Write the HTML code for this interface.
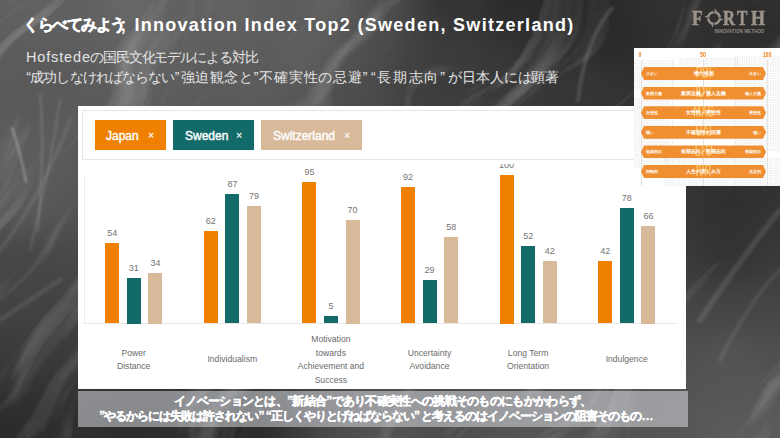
<!DOCTYPE html><html><head><meta charset="utf-8"><style>
*{margin:0;padding:0;box-sizing:border-box}
html,body{width:780px;height:438px;overflow:hidden}
body{position:relative;font-family:"Liberation Sans",sans-serif;background:#3e3e3e}
.a{position:absolute}
.title{left:26px;top:12px;color:#fff;white-space:nowrap;line-height:22px;font-weight:bold}
.sub{left:27px;color:#e4e4e4;white-space:nowrap;line-height:20px}
.pill{position:absolute;top:120px;height:30px;color:#fff;font-size:12px;line-height:30px;white-space:nowrap;-webkit-text-stroke:.4px #fff}
.pill span{position:absolute;top:.7px}
.pill i{position:absolute;top:.2px;font-style:normal;font-size:10.5px;-webkit-text-stroke:.2px #fff}
.bar{position:absolute;width:14px}
.o{background:#f08000}.t{background:#136b69}.s{background:#d8b99a}
.val{position:absolute;font-size:9px;color:#747474;width:30px;text-align:center;line-height:10px}
.cat{position:absolute;font-size:8.6px;color:#6a6a6a;width:96px;text-align:center;line-height:13.5px;white-space:nowrap}
.arr{position:absolute;left:7px;width:125px;height:13px;background:#ef8f32;
 clip-path:polygon(3px 0,122px 0,125px 50%,122px 100%,3px 100%,0 50%)}
.arr b{position:absolute;top:0;line-height:13px;color:#fff;font-size:4.1px;font-weight:bold;white-space:nowrap}
.arr .m{left:0;width:125px;text-align:center;font-size:5.4px}
.big{position:absolute;left:0;top:-1.5px;width:125px;text-align:center;font-size:16px;line-height:13px;color:rgba(255,214,120,.7);font-weight:bold;transform:scaleX(.58);transform-origin:62.5px 0}
.lg{position:absolute;font-family:"Liberation Serif",serif;font-weight:bold;font-size:20px;line-height:20px;color:#9c938a;transform-origin:0 0;-webkit-text-stroke:.5px #9c938a}
</style></head><body>
<svg class="a" style="left:0;top:0" width="780" height="438" viewBox="0 0 780 438">
<defs>
<filter id="bl" x="-20%" y="-20%" width="140%" height="140%" color-interpolation-filters="sRGB"><feGaussianBlur stdDeviation="10"/></filter>
<filter id="bs" x="-20%" y="-20%" width="140%" height="140%"><feGaussianBlur stdDeviation="1.2"/></filter>
<filter id="tx" x="0" y="0" width="100%" height="100%">
<feTurbulence type="fractalNoise" baseFrequency="0.004 0.03" numOctaves="5" seed="3" result="n"/>
<feTurbulence type="fractalNoise" baseFrequency="0.006" numOctaves="2" seed="11" result="w"/>
<feDisplacementMap in="n" in2="w" scale="120" xChannelSelector="R" yChannelSelector="G" result="d"/>
<feColorMatrix in="d" type="matrix" values="0 0 0 0 1  0 0 0 0 1  0 0 0 0 1  2.2 0 0 0 -1.25"/>
</filter>
</defs>
<g filter="url(#bl)"><rect x="-40" y="-40" width="60" height="60" fill="rgb(96,96,96)"/><rect x="20" y="-40" width="20" height="60" fill="rgb(98,98,98)"/><rect x="40" y="-40" width="20" height="60" fill="rgb(97,97,97)"/><rect x="60" y="-40" width="20" height="60" fill="rgb(96,96,96)"/><rect x="80" y="-40" width="20" height="60" fill="rgb(97,97,97)"/><rect x="100" y="-40" width="20" height="60" fill="rgb(101,101,101)"/><rect x="120" y="-40" width="20" height="60" fill="rgb(104,104,104)"/><rect x="140" y="-40" width="20" height="60" fill="rgb(101,101,101)"/><rect x="160" y="-40" width="20" height="60" fill="rgb(97,97,97)"/><rect x="180" y="-40" width="20" height="60" fill="rgb(96,96,96)"/><rect x="200" y="-40" width="20" height="60" fill="rgb(98,98,98)"/><rect x="220" y="-40" width="20" height="60" fill="rgb(100,100,100)"/><rect x="240" y="-40" width="20" height="60" fill="rgb(97,97,97)"/><rect x="260" y="-40" width="20" height="60" fill="rgb(93,93,93)"/><rect x="280" y="-40" width="20" height="60" fill="rgb(92,92,92)"/><rect x="300" y="-40" width="20" height="60" fill="rgb(94,94,94)"/><rect x="320" y="-40" width="20" height="60" fill="rgb(98,98,98)"/><rect x="340" y="-40" width="20" height="60" fill="rgb(89,89,89)"/><rect x="360" y="-40" width="20" height="60" fill="rgb(80,80,80)"/><rect x="380" y="-40" width="20" height="60" fill="rgb(78,78,78)"/><rect x="400" y="-40" width="20" height="60" fill="rgb(68,68,68)"/><rect x="420" y="-40" width="20" height="60" fill="rgb(56,56,56)"/><rect x="440" y="-40" width="20" height="60" fill="rgb(50,50,50)"/><rect x="460" y="-40" width="20" height="60" fill="rgb(52,52,52)"/><rect x="480" y="-40" width="20" height="60" fill="rgb(47,47,47)"/><rect x="500" y="-40" width="20" height="60" fill="rgb(43,43,43)"/><rect x="520" y="-40" width="20" height="60" fill="rgb(44,44,44)"/><rect x="540" y="-40" width="20" height="60" fill="rgb(41,41,41)"/><rect x="560" y="-40" width="20" height="60" fill="rgb(40,40,40)"/><rect x="580" y="-40" width="20" height="60" fill="rgb(38,38,38)"/><rect x="600" y="-40" width="20" height="60" fill="rgb(41,41,41)"/><rect x="620" y="-40" width="20" height="60" fill="rgb(45,45,45)"/><rect x="640" y="-40" width="20" height="60" fill="rgb(48,48,48)"/><rect x="660" y="-40" width="40" height="60" fill="rgb(49,49,49)"/><rect x="700" y="-40" width="20" height="60" fill="rgb(48,48,48)"/><rect x="720" y="-40" width="20" height="60" fill="rgb(47,47,47)"/><rect x="740" y="-40" width="20" height="60" fill="rgb(46,46,46)"/><rect x="760" y="-40" width="60" height="60" fill="rgb(47,47,47)"/><rect x="-40" y="20" width="60" height="20" fill="rgb(94,94,94)"/><rect x="20" y="20" width="60" height="20" fill="rgb(95,95,95)"/><rect x="80" y="20" width="20" height="20" fill="rgb(96,96,96)"/><rect x="100" y="20" width="20" height="20" fill="rgb(99,99,99)"/><rect x="120" y="20" width="20" height="20" fill="rgb(100,100,100)"/><rect x="140" y="20" width="20" height="20" fill="rgb(98,98,98)"/><rect x="160" y="20" width="20" height="20" fill="rgb(96,96,96)"/><rect x="180" y="20" width="20" height="20" fill="rgb(95,95,95)"/><rect x="200" y="20" width="20" height="20" fill="rgb(96,96,96)"/><rect x="220" y="20" width="20" height="20" fill="rgb(97,97,97)"/><rect x="240" y="20" width="20" height="20" fill="rgb(95,95,95)"/><rect x="260" y="20" width="40" height="20" fill="rgb(93,93,93)"/><rect x="300" y="20" width="20" height="20" fill="rgb(94,94,94)"/><rect x="320" y="20" width="20" height="20" fill="rgb(92,92,92)"/><rect x="340" y="20" width="20" height="20" fill="rgb(86,86,86)"/><rect x="360" y="20" width="20" height="20" fill="rgb(79,79,79)"/><rect x="380" y="20" width="20" height="20" fill="rgb(75,75,75)"/><rect x="400" y="20" width="20" height="20" fill="rgb(67,67,67)"/><rect x="420" y="20" width="20" height="20" fill="rgb(59,59,59)"/><rect x="440" y="20" width="20" height="20" fill="rgb(56,56,56)"/><rect x="460" y="20" width="20" height="20" fill="rgb(55,55,55)"/><rect x="480" y="20" width="20" height="20" fill="rgb(51,51,51)"/><rect x="500" y="20" width="20" height="20" fill="rgb(47,47,47)"/><rect x="520" y="20" width="20" height="20" fill="rgb(46,46,46)"/><rect x="540" y="20" width="20" height="20" fill="rgb(42,42,42)"/><rect x="560" y="20" width="20" height="20" fill="rgb(41,41,41)"/><rect x="580" y="20" width="20" height="20" fill="rgb(42,42,42)"/><rect x="600" y="20" width="20" height="20" fill="rgb(41,41,41)"/><rect x="620" y="20" width="20" height="20" fill="rgb(44,44,44)"/><rect x="640" y="20" width="20" height="20" fill="rgb(47,47,47)"/><rect x="660" y="20" width="20" height="20" fill="rgb(48,48,48)"/><rect x="680" y="20" width="20" height="20" fill="rgb(49,49,49)"/><rect x="700" y="20" width="20" height="20" fill="rgb(48,48,48)"/><rect x="720" y="20" width="40" height="20" fill="rgb(47,47,47)"/><rect x="760" y="20" width="60" height="20" fill="rgb(46,46,46)"/><rect x="-40" y="40" width="100" height="20" fill="rgb(92,92,92)"/><rect x="60" y="40" width="20" height="20" fill="rgb(93,93,93)"/><rect x="80" y="40" width="20" height="20" fill="rgb(94,94,94)"/><rect x="100" y="40" width="20" height="20" fill="rgb(96,96,96)"/><rect x="120" y="40" width="40" height="20" fill="rgb(97,97,97)"/><rect x="160" y="40" width="20" height="20" fill="rgb(96,96,96)"/><rect x="180" y="40" width="20" height="20" fill="rgb(95,95,95)"/><rect x="200" y="40" width="20" height="20" fill="rgb(94,94,94)"/><rect x="220" y="40" width="20" height="20" fill="rgb(93,93,93)"/><rect x="240" y="40" width="40" height="20" fill="rgb(92,92,92)"/><rect x="280" y="40" width="20" height="20" fill="rgb(95,95,95)"/><rect x="300" y="40" width="20" height="20" fill="rgb(96,96,96)"/><rect x="320" y="40" width="20" height="20" fill="rgb(90,90,90)"/><rect x="340" y="40" width="20" height="20" fill="rgb(83,83,83)"/><rect x="360" y="40" width="20" height="20" fill="rgb(78,78,78)"/><rect x="380" y="40" width="20" height="20" fill="rgb(72,72,72)"/><rect x="400" y="40" width="20" height="20" fill="rgb(66,66,66)"/><rect x="420" y="40" width="20" height="20" fill="rgb(61,61,61)"/><rect x="440" y="40" width="20" height="20" fill="rgb(59,59,59)"/><rect x="460" y="40" width="20" height="20" fill="rgb(58,58,58)"/><rect x="480" y="40" width="20" height="20" fill="rgb(55,55,55)"/><rect x="500" y="40" width="20" height="20" fill="rgb(52,52,52)"/><rect x="520" y="40" width="20" height="20" fill="rgb(49,49,49)"/><rect x="540" y="40" width="20" height="20" fill="rgb(47,47,47)"/><rect x="560" y="40" width="20" height="20" fill="rgb(46,46,46)"/><rect x="580" y="40" width="20" height="20" fill="rgb(45,45,45)"/><rect x="600" y="40" width="20" height="20" fill="rgb(41,41,41)"/><rect x="620" y="40" width="20" height="20" fill="rgb(44,44,44)"/><rect x="640" y="40" width="20" height="20" fill="rgb(47,47,47)"/><rect x="660" y="40" width="20" height="20" fill="rgb(48,48,48)"/><rect x="680" y="40" width="20" height="20" fill="rgb(49,49,49)"/><rect x="700" y="40" width="40" height="20" fill="rgb(48,48,48)"/><rect x="740" y="40" width="20" height="20" fill="rgb(47,47,47)"/><rect x="760" y="40" width="60" height="20" fill="rgb(46,46,46)"/><rect x="-40" y="60" width="120" height="20" fill="rgb(91,91,91)"/><rect x="80" y="60" width="20" height="20" fill="rgb(92,92,92)"/><rect x="100" y="60" width="20" height="20" fill="rgb(94,94,94)"/><rect x="120" y="60" width="20" height="20" fill="rgb(95,95,95)"/><rect x="140" y="60" width="40" height="20" fill="rgb(96,96,96)"/><rect x="180" y="60" width="20" height="20" fill="rgb(94,94,94)"/><rect x="200" y="60" width="20" height="20" fill="rgb(92,92,92)"/><rect x="220" y="60" width="60" height="20" fill="rgb(91,91,91)"/><rect x="280" y="60" width="40" height="20" fill="rgb(92,92,92)"/><rect x="320" y="60" width="20" height="20" fill="rgb(85,85,85)"/><rect x="340" y="60" width="20" height="20" fill="rgb(80,80,80)"/><rect x="360" y="60" width="20" height="20" fill="rgb(76,76,76)"/><rect x="380" y="60" width="20" height="20" fill="rgb(71,71,71)"/><rect x="400" y="60" width="20" height="20" fill="rgb(65,65,65)"/><rect x="420" y="60" width="20" height="20" fill="rgb(62,62,62)"/><rect x="440" y="60" width="20" height="20" fill="rgb(60,60,60)"/><rect x="460" y="60" width="20" height="20" fill="rgb(59,59,59)"/><rect x="480" y="60" width="20" height="20" fill="rgb(57,57,57)"/><rect x="500" y="60" width="20" height="20" fill="rgb(56,56,56)"/><rect x="520" y="60" width="20" height="20" fill="rgb(54,54,54)"/><rect x="540" y="60" width="60" height="20" fill="rgb(51,51,51)"/><rect x="600" y="60" width="20" height="20" fill="rgb(49,49,49)"/><rect x="620" y="60" width="20" height="20" fill="rgb(47,47,47)"/><rect x="640" y="60" width="20" height="20" fill="rgb(48,48,48)"/><rect x="660" y="60" width="60" height="20" fill="rgb(49,49,49)"/><rect x="720" y="60" width="20" height="20" fill="rgb(48,48,48)"/><rect x="740" y="60" width="20" height="20" fill="rgb(47,47,47)"/><rect x="760" y="60" width="60" height="20" fill="rgb(46,46,46)"/><rect x="-40" y="80" width="60" height="20" fill="rgb(90,90,90)"/><rect x="20" y="80" width="20" height="20" fill="rgb(89,89,89)"/><rect x="40" y="80" width="40" height="20" fill="rgb(90,90,90)"/><rect x="80" y="80" width="20" height="20" fill="rgb(91,91,91)"/><rect x="100" y="80" width="20" height="20" fill="rgb(92,92,92)"/><rect x="120" y="80" width="20" height="20" fill="rgb(93,93,93)"/><rect x="140" y="80" width="40" height="20" fill="rgb(94,94,94)"/><rect x="180" y="80" width="20" height="20" fill="rgb(92,92,92)"/><rect x="200" y="80" width="40" height="20" fill="rgb(91,91,91)"/><rect x="240" y="80" width="20" height="20" fill="rgb(92,92,92)"/><rect x="260" y="80" width="20" height="20" fill="rgb(91,91,91)"/><rect x="280" y="80" width="20" height="20" fill="rgb(88,88,88)"/><rect x="300" y="80" width="20" height="20" fill="rgb(85,85,85)"/><rect x="320" y="80" width="20" height="20" fill="rgb(80,80,80)"/><rect x="340" y="80" width="20" height="20" fill="rgb(77,77,77)"/><rect x="360" y="80" width="20" height="20" fill="rgb(76,76,76)"/><rect x="380" y="80" width="20" height="20" fill="rgb(70,70,70)"/><rect x="400" y="80" width="20" height="20" fill="rgb(64,64,64)"/><rect x="420" y="80" width="20" height="20" fill="rgb(62,62,62)"/><rect x="440" y="80" width="20" height="20" fill="rgb(61,61,61)"/><rect x="460" y="80" width="20" height="20" fill="rgb(59,59,59)"/><rect x="480" y="80" width="20" height="20" fill="rgb(58,58,58)"/><rect x="500" y="80" width="20" height="20" fill="rgb(59,59,59)"/><rect x="520" y="80" width="20" height="20" fill="rgb(56,56,56)"/><rect x="540" y="80" width="40" height="20" fill="rgb(54,54,54)"/><rect x="580" y="80" width="20" height="20" fill="rgb(52,52,52)"/><rect x="600" y="80" width="20" height="20" fill="rgb(51,51,51)"/><rect x="620" y="80" width="100" height="20" fill="rgb(50,50,50)"/><rect x="720" y="80" width="20" height="20" fill="rgb(49,49,49)"/><rect x="740" y="80" width="20" height="20" fill="rgb(48,48,48)"/><rect x="760" y="80" width="60" height="20" fill="rgb(47,47,47)"/><rect x="-40" y="100" width="60" height="20" fill="rgb(90,90,90)"/><rect x="20" y="100" width="20" height="20" fill="rgb(89,89,89)"/><rect x="40" y="100" width="80" height="20" fill="rgb(90,90,90)"/><rect x="120" y="100" width="60" height="20" fill="rgb(91,91,91)"/><rect x="180" y="100" width="60" height="20" fill="rgb(90,90,90)"/><rect x="240" y="100" width="20" height="20" fill="rgb(91,91,91)"/><rect x="260" y="100" width="20" height="20" fill="rgb(90,90,90)"/><rect x="280" y="100" width="20" height="20" fill="rgb(86,86,86)"/><rect x="300" y="100" width="20" height="20" fill="rgb(83,83,83)"/><rect x="320" y="100" width="20" height="20" fill="rgb(79,79,79)"/><rect x="340" y="100" width="20" height="20" fill="rgb(77,77,77)"/><rect x="360" y="100" width="20" height="20" fill="rgb(75,75,75)"/><rect x="380" y="100" width="20" height="20" fill="rgb(70,70,70)"/><rect x="400" y="100" width="20" height="20" fill="rgb(65,65,65)"/><rect x="420" y="100" width="40" height="20" fill="rgb(62,62,62)"/><rect x="460" y="100" width="20" height="20" fill="rgb(60,60,60)"/><rect x="480" y="100" width="20" height="20" fill="rgb(59,59,59)"/><rect x="500" y="100" width="20" height="20" fill="rgb(58,58,58)"/><rect x="520" y="100" width="20" height="20" fill="rgb(57,57,57)"/><rect x="540" y="100" width="20" height="20" fill="rgb(55,55,55)"/><rect x="560" y="100" width="20" height="20" fill="rgb(54,54,54)"/><rect x="580" y="100" width="20" height="20" fill="rgb(53,53,53)"/><rect x="600" y="100" width="20" height="20" fill="rgb(52,52,52)"/><rect x="620" y="100" width="80" height="20" fill="rgb(51,51,51)"/><rect x="700" y="100" width="40" height="20" fill="rgb(50,50,50)"/><rect x="740" y="100" width="20" height="20" fill="rgb(49,49,49)"/><rect x="760" y="100" width="60" height="20" fill="rgb(48,48,48)"/><rect x="-40" y="120" width="100" height="20" fill="rgb(91,91,91)"/><rect x="60" y="120" width="20" height="20" fill="rgb(90,90,90)"/><rect x="80" y="120" width="20" height="20" fill="rgb(89,89,89)"/><rect x="100" y="120" width="140" height="20" fill="rgb(88,88,88)"/><rect x="240" y="120" width="20" height="20" fill="rgb(89,89,89)"/><rect x="260" y="120" width="20" height="20" fill="rgb(87,87,87)"/><rect x="280" y="120" width="20" height="20" fill="rgb(84,84,84)"/><rect x="300" y="120" width="20" height="20" fill="rgb(81,81,81)"/><rect x="320" y="120" width="20" height="20" fill="rgb(78,78,78)"/><rect x="340" y="120" width="20" height="20" fill="rgb(76,76,76)"/><rect x="360" y="120" width="20" height="20" fill="rgb(74,74,74)"/><rect x="380" y="120" width="20" height="20" fill="rgb(70,70,70)"/><rect x="400" y="120" width="20" height="20" fill="rgb(66,66,66)"/><rect x="420" y="120" width="20" height="20" fill="rgb(64,64,64)"/><rect x="440" y="120" width="20" height="20" fill="rgb(62,62,62)"/><rect x="460" y="120" width="20" height="20" fill="rgb(61,61,61)"/><rect x="480" y="120" width="20" height="20" fill="rgb(59,59,59)"/><rect x="500" y="120" width="20" height="20" fill="rgb(58,58,58)"/><rect x="520" y="120" width="20" height="20" fill="rgb(57,57,57)"/><rect x="540" y="120" width="20" height="20" fill="rgb(55,55,55)"/><rect x="560" y="120" width="40" height="20" fill="rgb(54,54,54)"/><rect x="600" y="120" width="20" height="20" fill="rgb(53,53,53)"/><rect x="620" y="120" width="80" height="20" fill="rgb(52,52,52)"/><rect x="700" y="120" width="20" height="20" fill="rgb(51,51,51)"/><rect x="720" y="120" width="20" height="20" fill="rgb(50,50,50)"/><rect x="740" y="120" width="20" height="20" fill="rgb(49,49,49)"/><rect x="760" y="120" width="60" height="20" fill="rgb(48,48,48)"/><rect x="-40" y="140" width="60" height="20" fill="rgb(92,92,92)"/><rect x="20" y="140" width="20" height="20" fill="rgb(94,94,94)"/><rect x="40" y="140" width="20" height="20" fill="rgb(92,92,92)"/><rect x="60" y="140" width="20" height="20" fill="rgb(90,90,90)"/><rect x="80" y="140" width="20" height="20" fill="rgb(88,88,88)"/><rect x="100" y="140" width="20" height="20" fill="rgb(87,87,87)"/><rect x="120" y="140" width="120" height="20" fill="rgb(86,86,86)"/><rect x="240" y="140" width="20" height="20" fill="rgb(85,85,85)"/><rect x="260" y="140" width="20" height="20" fill="rgb(84,84,84)"/><rect x="280" y="140" width="20" height="20" fill="rgb(82,82,82)"/><rect x="300" y="140" width="20" height="20" fill="rgb(80,80,80)"/><rect x="320" y="140" width="20" height="20" fill="rgb(77,77,77)"/><rect x="340" y="140" width="20" height="20" fill="rgb(75,75,75)"/><rect x="360" y="140" width="20" height="20" fill="rgb(73,73,73)"/><rect x="380" y="140" width="20" height="20" fill="rgb(70,70,70)"/><rect x="400" y="140" width="20" height="20" fill="rgb(67,67,67)"/><rect x="420" y="140" width="20" height="20" fill="rgb(65,65,65)"/><rect x="440" y="140" width="20" height="20" fill="rgb(63,63,63)"/><rect x="460" y="140" width="20" height="20" fill="rgb(61,61,61)"/><rect x="480" y="140" width="20" height="20" fill="rgb(60,60,60)"/><rect x="500" y="140" width="20" height="20" fill="rgb(58,58,58)"/><rect x="520" y="140" width="20" height="20" fill="rgb(57,57,57)"/><rect x="540" y="140" width="20" height="20" fill="rgb(56,56,56)"/><rect x="560" y="140" width="40" height="20" fill="rgb(55,55,55)"/><rect x="600" y="140" width="40" height="20" fill="rgb(54,54,54)"/><rect x="640" y="140" width="40" height="20" fill="rgb(53,53,53)"/><rect x="680" y="140" width="20" height="20" fill="rgb(52,52,52)"/><rect x="700" y="140" width="20" height="20" fill="rgb(51,51,51)"/><rect x="720" y="140" width="20" height="20" fill="rgb(50,50,50)"/><rect x="740" y="140" width="20" height="20" fill="rgb(49,49,49)"/><rect x="760" y="140" width="60" height="20" fill="rgb(47,47,47)"/><rect x="-40" y="160" width="60" height="20" fill="rgb(91,91,91)"/><rect x="20" y="160" width="20" height="20" fill="rgb(93,93,93)"/><rect x="40" y="160" width="20" height="20" fill="rgb(91,91,91)"/><rect x="60" y="160" width="20" height="20" fill="rgb(89,89,89)"/><rect x="80" y="160" width="20" height="20" fill="rgb(86,86,86)"/><rect x="100" y="160" width="20" height="20" fill="rgb(85,85,85)"/><rect x="120" y="160" width="60" height="20" fill="rgb(84,84,84)"/><rect x="180" y="160" width="80" height="20" fill="rgb(83,83,83)"/><rect x="260" y="160" width="20" height="20" fill="rgb(82,82,82)"/><rect x="280" y="160" width="20" height="20" fill="rgb(80,80,80)"/><rect x="300" y="160" width="20" height="20" fill="rgb(78,78,78)"/><rect x="320" y="160" width="20" height="20" fill="rgb(76,76,76)"/><rect x="340" y="160" width="20" height="20" fill="rgb(74,74,74)"/><rect x="360" y="160" width="20" height="20" fill="rgb(72,72,72)"/><rect x="380" y="160" width="20" height="20" fill="rgb(70,70,70)"/><rect x="400" y="160" width="20" height="20" fill="rgb(67,67,67)"/><rect x="420" y="160" width="20" height="20" fill="rgb(65,65,65)"/><rect x="440" y="160" width="20" height="20" fill="rgb(64,64,64)"/><rect x="460" y="160" width="20" height="20" fill="rgb(62,62,62)"/><rect x="480" y="160" width="20" height="20" fill="rgb(61,61,61)"/><rect x="500" y="160" width="20" height="20" fill="rgb(59,59,59)"/><rect x="520" y="160" width="20" height="20" fill="rgb(58,58,58)"/><rect x="540" y="160" width="20" height="20" fill="rgb(57,57,57)"/><rect x="560" y="160" width="40" height="20" fill="rgb(56,56,56)"/><rect x="600" y="160" width="40" height="20" fill="rgb(55,55,55)"/><rect x="640" y="160" width="20" height="20" fill="rgb(54,54,54)"/><rect x="660" y="160" width="20" height="20" fill="rgb(53,53,53)"/><rect x="680" y="160" width="20" height="20" fill="rgb(52,52,52)"/><rect x="700" y="160" width="20" height="20" fill="rgb(51,51,51)"/><rect x="720" y="160" width="20" height="20" fill="rgb(50,50,50)"/><rect x="740" y="160" width="20" height="20" fill="rgb(49,49,49)"/><rect x="760" y="160" width="60" height="20" fill="rgb(48,48,48)"/><rect x="-40" y="180" width="60" height="20" fill="rgb(89,89,89)"/><rect x="20" y="180" width="20" height="20" fill="rgb(90,90,90)"/><rect x="40" y="180" width="20" height="20" fill="rgb(89,89,89)"/><rect x="60" y="180" width="20" height="20" fill="rgb(87,87,87)"/><rect x="80" y="180" width="20" height="20" fill="rgb(84,84,84)"/><rect x="100" y="180" width="20" height="20" fill="rgb(83,83,83)"/><rect x="120" y="180" width="20" height="20" fill="rgb(82,82,82)"/><rect x="140" y="180" width="100" height="20" fill="rgb(81,81,81)"/><rect x="240" y="180" width="20" height="20" fill="rgb(80,80,80)"/><rect x="260" y="180" width="20" height="20" fill="rgb(79,79,79)"/><rect x="280" y="180" width="20" height="20" fill="rgb(78,78,78)"/><rect x="300" y="180" width="20" height="20" fill="rgb(77,77,77)"/><rect x="320" y="180" width="20" height="20" fill="rgb(75,75,75)"/><rect x="340" y="180" width="20" height="20" fill="rgb(73,73,73)"/><rect x="360" y="180" width="20" height="20" fill="rgb(71,71,71)"/><rect x="380" y="180" width="20" height="20" fill="rgb(69,69,69)"/><rect x="400" y="180" width="20" height="20" fill="rgb(68,68,68)"/><rect x="420" y="180" width="20" height="20" fill="rgb(66,66,66)"/><rect x="440" y="180" width="20" height="20" fill="rgb(64,64,64)"/><rect x="460" y="180" width="20" height="20" fill="rgb(63,63,63)"/><rect x="480" y="180" width="20" height="20" fill="rgb(61,61,61)"/><rect x="500" y="180" width="20" height="20" fill="rgb(60,60,60)"/><rect x="520" y="180" width="40" height="20" fill="rgb(59,59,59)"/><rect x="560" y="180" width="20" height="20" fill="rgb(58,58,58)"/><rect x="580" y="180" width="40" height="20" fill="rgb(57,57,57)"/><rect x="620" y="180" width="20" height="20" fill="rgb(56,56,56)"/><rect x="640" y="180" width="20" height="20" fill="rgb(55,55,55)"/><rect x="660" y="180" width="20" height="20" fill="rgb(54,54,54)"/><rect x="680" y="180" width="20" height="20" fill="rgb(52,52,52)"/><rect x="700" y="180" width="20" height="20" fill="rgb(50,50,50)"/><rect x="720" y="180" width="20" height="20" fill="rgb(48,48,48)"/><rect x="740" y="180" width="20" height="20" fill="rgb(49,49,49)"/><rect x="760" y="180" width="60" height="20" fill="rgb(50,50,50)"/><rect x="-40" y="200" width="60" height="20" fill="rgb(88,88,88)"/><rect x="20" y="200" width="20" height="20" fill="rgb(91,91,91)"/><rect x="40" y="200" width="20" height="20" fill="rgb(88,88,88)"/><rect x="60" y="200" width="20" height="20" fill="rgb(84,84,84)"/><rect x="80" y="200" width="20" height="20" fill="rgb(82,82,82)"/><rect x="100" y="200" width="40" height="20" fill="rgb(80,80,80)"/><rect x="140" y="200" width="60" height="20" fill="rgb(79,79,79)"/><rect x="200" y="200" width="60" height="20" fill="rgb(78,78,78)"/><rect x="260" y="200" width="20" height="20" fill="rgb(77,77,77)"/><rect x="280" y="200" width="20" height="20" fill="rgb(76,76,76)"/><rect x="300" y="200" width="20" height="20" fill="rgb(75,75,75)"/><rect x="320" y="200" width="20" height="20" fill="rgb(74,74,74)"/><rect x="340" y="200" width="20" height="20" fill="rgb(72,72,72)"/><rect x="360" y="200" width="20" height="20" fill="rgb(71,71,71)"/><rect x="380" y="200" width="20" height="20" fill="rgb(69,69,69)"/><rect x="400" y="200" width="20" height="20" fill="rgb(68,68,68)"/><rect x="420" y="200" width="20" height="20" fill="rgb(66,66,66)"/><rect x="440" y="200" width="20" height="20" fill="rgb(65,65,65)"/><rect x="460" y="200" width="20" height="20" fill="rgb(64,64,64)"/><rect x="480" y="200" width="20" height="20" fill="rgb(63,63,63)"/><rect x="500" y="200" width="20" height="20" fill="rgb(62,62,62)"/><rect x="520" y="200" width="20" height="20" fill="rgb(61,61,61)"/><rect x="540" y="200" width="20" height="20" fill="rgb(60,60,60)"/><rect x="560" y="200" width="40" height="20" fill="rgb(59,59,59)"/><rect x="600" y="200" width="40" height="20" fill="rgb(58,58,58)"/><rect x="640" y="200" width="20" height="20" fill="rgb(57,57,57)"/><rect x="660" y="200" width="20" height="20" fill="rgb(55,55,55)"/><rect x="680" y="200" width="20" height="20" fill="rgb(52,52,52)"/><rect x="700" y="200" width="20" height="20" fill="rgb(49,49,49)"/><rect x="720" y="200" width="20" height="20" fill="rgb(47,47,47)"/><rect x="740" y="200" width="20" height="20" fill="rgb(49,49,49)"/><rect x="760" y="200" width="60" height="20" fill="rgb(51,51,51)"/><rect x="-40" y="220" width="100" height="20" fill="rgb(81,81,81)"/><rect x="60" y="220" width="20" height="20" fill="rgb(79,79,79)"/><rect x="80" y="220" width="20" height="20" fill="rgb(78,78,78)"/><rect x="100" y="220" width="40" height="20" fill="rgb(77,77,77)"/><rect x="140" y="220" width="120" height="20" fill="rgb(76,76,76)"/><rect x="260" y="220" width="20" height="20" fill="rgb(75,75,75)"/><rect x="280" y="220" width="40" height="20" fill="rgb(74,74,74)"/><rect x="320" y="220" width="20" height="20" fill="rgb(73,73,73)"/><rect x="340" y="220" width="20" height="20" fill="rgb(72,72,72)"/><rect x="360" y="220" width="20" height="20" fill="rgb(71,71,71)"/><rect x="380" y="220" width="20" height="20" fill="rgb(69,69,69)"/><rect x="400" y="220" width="20" height="20" fill="rgb(68,68,68)"/><rect x="420" y="220" width="20" height="20" fill="rgb(67,67,67)"/><rect x="440" y="220" width="20" height="20" fill="rgb(66,66,66)"/><rect x="460" y="220" width="20" height="20" fill="rgb(65,65,65)"/><rect x="480" y="220" width="20" height="20" fill="rgb(64,64,64)"/><rect x="500" y="220" width="20" height="20" fill="rgb(63,63,63)"/><rect x="520" y="220" width="40" height="20" fill="rgb(62,62,62)"/><rect x="560" y="220" width="40" height="20" fill="rgb(61,61,61)"/><rect x="600" y="220" width="20" height="20" fill="rgb(60,60,60)"/><rect x="620" y="220" width="20" height="20" fill="rgb(59,59,59)"/><rect x="640" y="220" width="20" height="20" fill="rgb(58,58,58)"/><rect x="660" y="220" width="20" height="20" fill="rgb(56,56,56)"/><rect x="680" y="220" width="20" height="20" fill="rgb(54,54,54)"/><rect x="700" y="220" width="20" height="20" fill="rgb(51,51,51)"/><rect x="720" y="220" width="20" height="20" fill="rgb(50,50,50)"/><rect x="740" y="220" width="20" height="20" fill="rgb(51,51,51)"/><rect x="760" y="220" width="60" height="20" fill="rgb(53,53,53)"/><rect x="-40" y="240" width="60" height="20" fill="rgb(72,72,72)"/><rect x="20" y="240" width="20" height="20" fill="rgb(70,70,70)"/><rect x="40" y="240" width="20" height="20" fill="rgb(72,72,72)"/><rect x="60" y="240" width="100" height="20" fill="rgb(74,74,74)"/><rect x="160" y="240" width="140" height="20" fill="rgb(73,73,73)"/><rect x="300" y="240" width="40" height="20" fill="rgb(72,72,72)"/><rect x="340" y="240" width="20" height="20" fill="rgb(71,71,71)"/><rect x="360" y="240" width="20" height="20" fill="rgb(70,70,70)"/><rect x="380" y="240" width="20" height="20" fill="rgb(69,69,69)"/><rect x="400" y="240" width="20" height="20" fill="rgb(68,68,68)"/><rect x="420" y="240" width="40" height="20" fill="rgb(67,67,67)"/><rect x="460" y="240" width="20" height="20" fill="rgb(66,66,66)"/><rect x="480" y="240" width="20" height="20" fill="rgb(65,65,65)"/><rect x="500" y="240" width="40" height="20" fill="rgb(64,64,64)"/><rect x="540" y="240" width="60" height="20" fill="rgb(63,63,63)"/><rect x="600" y="240" width="20" height="20" fill="rgb(62,62,62)"/><rect x="620" y="240" width="20" height="20" fill="rgb(61,61,61)"/><rect x="640" y="240" width="20" height="20" fill="rgb(60,60,60)"/><rect x="660" y="240" width="20" height="20" fill="rgb(59,59,59)"/><rect x="680" y="240" width="20" height="20" fill="rgb(56,56,56)"/><rect x="700" y="240" width="20" height="20" fill="rgb(52,52,52)"/><rect x="720" y="240" width="20" height="20" fill="rgb(50,50,50)"/><rect x="740" y="240" width="20" height="20" fill="rgb(52,52,52)"/><rect x="760" y="240" width="60" height="20" fill="rgb(56,56,56)"/><rect x="-40" y="260" width="100" height="20" fill="rgb(70,70,70)"/><rect x="60" y="260" width="280" height="20" fill="rgb(71,71,71)"/><rect x="340" y="260" width="40" height="20" fill="rgb(70,70,70)"/><rect x="380" y="260" width="40" height="20" fill="rgb(69,69,69)"/><rect x="420" y="260" width="40" height="20" fill="rgb(68,68,68)"/><rect x="460" y="260" width="20" height="20" fill="rgb(67,67,67)"/><rect x="480" y="260" width="60" height="20" fill="rgb(66,66,66)"/><rect x="540" y="260" width="60" height="20" fill="rgb(65,65,65)"/><rect x="600" y="260" width="40" height="20" fill="rgb(64,64,64)"/><rect x="640" y="260" width="20" height="20" fill="rgb(63,63,63)"/><rect x="660" y="260" width="20" height="20" fill="rgb(62,62,62)"/><rect x="680" y="260" width="20" height="20" fill="rgb(59,59,59)"/><rect x="700" y="260" width="20" height="20" fill="rgb(56,56,56)"/><rect x="720" y="260" width="20" height="20" fill="rgb(53,53,53)"/><rect x="740" y="260" width="20" height="20" fill="rgb(56,56,56)"/><rect x="760" y="260" width="60" height="20" fill="rgb(59,59,59)"/><rect x="-40" y="280" width="300" height="20" fill="rgb(68,68,68)"/><rect x="260" y="280" width="40" height="20" fill="rgb(69,69,69)"/><rect x="300" y="280" width="100" height="20" fill="rgb(70,70,70)"/><rect x="400" y="280" width="60" height="20" fill="rgb(69,69,69)"/><rect x="460" y="280" width="80" height="20" fill="rgb(68,68,68)"/><rect x="540" y="280" width="100" height="20" fill="rgb(67,67,67)"/><rect x="640" y="280" width="40" height="20" fill="rgb(66,66,66)"/><rect x="680" y="280" width="140" height="20" fill="rgb(65,65,65)"/><rect x="-40" y="300" width="60" height="20" fill="rgb(66,66,66)"/><rect x="20" y="300" width="20" height="20" fill="rgb(67,67,67)"/><rect x="40" y="300" width="20" height="20" fill="rgb(66,66,66)"/><rect x="60" y="300" width="180" height="20" fill="rgb(65,65,65)"/><rect x="240" y="300" width="20" height="20" fill="rgb(66,66,66)"/><rect x="260" y="300" width="40" height="20" fill="rgb(67,67,67)"/><rect x="300" y="300" width="20" height="20" fill="rgb(68,68,68)"/><rect x="320" y="300" width="20" height="20" fill="rgb(69,69,69)"/><rect x="340" y="300" width="220" height="20" fill="rgb(70,70,70)"/><rect x="560" y="300" width="40" height="20" fill="rgb(69,69,69)"/><rect x="600" y="300" width="100" height="20" fill="rgb(70,70,70)"/><rect x="700" y="300" width="60" height="20" fill="rgb(69,69,69)"/><rect x="760" y="300" width="60" height="20" fill="rgb(70,70,70)"/><rect x="-40" y="320" width="100" height="20" fill="rgb(63,63,63)"/><rect x="60" y="320" width="40" height="20" fill="rgb(62,62,62)"/><rect x="100" y="320" width="120" height="20" fill="rgb(61,61,61)"/><rect x="220" y="320" width="20" height="20" fill="rgb(62,62,62)"/><rect x="240" y="320" width="20" height="20" fill="rgb(63,63,63)"/><rect x="260" y="320" width="20" height="20" fill="rgb(64,64,64)"/><rect x="280" y="320" width="20" height="20" fill="rgb(66,66,66)"/><rect x="300" y="320" width="20" height="20" fill="rgb(67,67,67)"/><rect x="320" y="320" width="20" height="20" fill="rgb(69,69,69)"/><rect x="340" y="320" width="20" height="20" fill="rgb(70,70,70)"/><rect x="360" y="320" width="100" height="20" fill="rgb(71,71,71)"/><rect x="460" y="320" width="160" height="20" fill="rgb(72,72,72)"/><rect x="620" y="320" width="40" height="20" fill="rgb(73,73,73)"/><rect x="660" y="320" width="40" height="20" fill="rgb(74,74,74)"/><rect x="700" y="320" width="60" height="20" fill="rgb(75,75,75)"/><rect x="760" y="320" width="60" height="20" fill="rgb(74,74,74)"/><rect x="-40" y="340" width="120" height="20" fill="rgb(59,59,59)"/><rect x="80" y="340" width="100" height="20" fill="rgb(58,58,58)"/><rect x="180" y="340" width="40" height="20" fill="rgb(57,57,57)"/><rect x="220" y="340" width="20" height="20" fill="rgb(58,58,58)"/><rect x="240" y="340" width="20" height="20" fill="rgb(59,59,59)"/><rect x="260" y="340" width="20" height="20" fill="rgb(61,61,61)"/><rect x="280" y="340" width="20" height="20" fill="rgb(63,63,63)"/><rect x="300" y="340" width="20" height="20" fill="rgb(66,66,66)"/><rect x="320" y="340" width="20" height="20" fill="rgb(69,69,69)"/><rect x="340" y="340" width="20" height="20" fill="rgb(71,71,71)"/><rect x="360" y="340" width="20" height="20" fill="rgb(72,72,72)"/><rect x="380" y="340" width="100" height="20" fill="rgb(73,73,73)"/><rect x="480" y="340" width="40" height="20" fill="rgb(74,74,74)"/><rect x="520" y="340" width="40" height="20" fill="rgb(75,75,75)"/><rect x="560" y="340" width="40" height="20" fill="rgb(74,74,74)"/><rect x="600" y="340" width="40" height="20" fill="rgb(75,75,75)"/><rect x="640" y="340" width="20" height="20" fill="rgb(76,76,76)"/><rect x="660" y="340" width="20" height="20" fill="rgb(77,77,77)"/><rect x="680" y="340" width="20" height="20" fill="rgb(79,79,79)"/><rect x="700" y="340" width="20" height="20" fill="rgb(81,81,81)"/><rect x="720" y="340" width="20" height="20" fill="rgb(84,84,84)"/><rect x="740" y="340" width="20" height="20" fill="rgb(81,81,81)"/><rect x="760" y="340" width="60" height="20" fill="rgb(79,79,79)"/><rect x="-40" y="360" width="60" height="20" fill="rgb(56,56,56)"/><rect x="20" y="360" width="20" height="20" fill="rgb(57,57,57)"/><rect x="40" y="360" width="20" height="20" fill="rgb(56,56,56)"/><rect x="60" y="360" width="40" height="20" fill="rgb(55,55,55)"/><rect x="100" y="360" width="80" height="20" fill="rgb(54,54,54)"/><rect x="180" y="360" width="60" height="20" fill="rgb(53,53,53)"/><rect x="240" y="360" width="20" height="20" fill="rgb(54,54,54)"/><rect x="260" y="360" width="20" height="20" fill="rgb(57,57,57)"/><rect x="280" y="360" width="20" height="20" fill="rgb(61,61,61)"/><rect x="300" y="360" width="20" height="20" fill="rgb(65,65,65)"/><rect x="320" y="360" width="20" height="20" fill="rgb(69,69,69)"/><rect x="340" y="360" width="20" height="20" fill="rgb(72,72,72)"/><rect x="360" y="360" width="20" height="20" fill="rgb(74,74,74)"/><rect x="380" y="360" width="100" height="20" fill="rgb(75,75,75)"/><rect x="480" y="360" width="20" height="20" fill="rgb(76,76,76)"/><rect x="500" y="360" width="20" height="20" fill="rgb(77,77,77)"/><rect x="520" y="360" width="20" height="20" fill="rgb(78,78,78)"/><rect x="540" y="360" width="80" height="20" fill="rgb(77,77,77)"/><rect x="620" y="360" width="20" height="20" fill="rgb(78,78,78)"/><rect x="640" y="360" width="20" height="20" fill="rgb(79,79,79)"/><rect x="660" y="360" width="20" height="20" fill="rgb(80,80,80)"/><rect x="680" y="360" width="20" height="20" fill="rgb(82,82,82)"/><rect x="700" y="360" width="20" height="20" fill="rgb(83,83,83)"/><rect x="720" y="360" width="40" height="20" fill="rgb(84,84,84)"/><rect x="760" y="360" width="60" height="20" fill="rgb(82,82,82)"/><rect x="-40" y="380" width="60" height="20" fill="rgb(50,50,50)"/><rect x="20" y="380" width="20" height="20" fill="rgb(49,49,49)"/><rect x="40" y="380" width="20" height="20" fill="rgb(50,50,50)"/><rect x="60" y="380" width="20" height="20" fill="rgb(51,51,51)"/><rect x="80" y="380" width="20" height="20" fill="rgb(52,52,52)"/><rect x="100" y="380" width="20" height="20" fill="rgb(51,51,51)"/><rect x="120" y="380" width="80" height="20" fill="rgb(50,50,50)"/><rect x="200" y="380" width="20" height="20" fill="rgb(48,48,48)"/><rect x="220" y="380" width="20" height="20" fill="rgb(47,47,47)"/><rect x="240" y="380" width="20" height="20" fill="rgb(49,49,49)"/><rect x="260" y="380" width="20" height="20" fill="rgb(53,53,53)"/><rect x="280" y="380" width="20" height="20" fill="rgb(59,59,59)"/><rect x="300" y="380" width="20" height="20" fill="rgb(65,65,65)"/><rect x="320" y="380" width="20" height="20" fill="rgb(70,70,70)"/><rect x="340" y="380" width="20" height="20" fill="rgb(75,75,75)"/><rect x="360" y="380" width="20" height="20" fill="rgb(77,77,77)"/><rect x="380" y="380" width="20" height="20" fill="rgb(78,78,78)"/><rect x="400" y="380" width="20" height="20" fill="rgb(77,77,77)"/><rect x="420" y="380" width="40" height="20" fill="rgb(76,76,76)"/><rect x="460" y="380" width="20" height="20" fill="rgb(77,77,77)"/><rect x="480" y="380" width="20" height="20" fill="rgb(79,79,79)"/><rect x="500" y="380" width="20" height="20" fill="rgb(80,80,80)"/><rect x="520" y="380" width="20" height="20" fill="rgb(81,81,81)"/><rect x="540" y="380" width="20" height="20" fill="rgb(80,80,80)"/><rect x="560" y="380" width="60" height="20" fill="rgb(79,79,79)"/><rect x="620" y="380" width="20" height="20" fill="rgb(80,80,80)"/><rect x="640" y="380" width="20" height="20" fill="rgb(82,82,82)"/><rect x="660" y="380" width="20" height="20" fill="rgb(83,83,83)"/><rect x="680" y="380" width="20" height="20" fill="rgb(84,84,84)"/><rect x="700" y="380" width="20" height="20" fill="rgb(85,85,85)"/><rect x="720" y="380" width="100" height="20" fill="rgb(86,86,86)"/><rect x="-40" y="400" width="60" height="20" fill="rgb(46,46,46)"/><rect x="20" y="400" width="40" height="20" fill="rgb(47,47,47)"/><rect x="60" y="400" width="20" height="20" fill="rgb(48,48,48)"/><rect x="80" y="400" width="20" height="20" fill="rgb(49,49,49)"/><rect x="100" y="400" width="20" height="20" fill="rgb(47,47,47)"/><rect x="120" y="400" width="40" height="20" fill="rgb(46,46,46)"/><rect x="160" y="400" width="20" height="20" fill="rgb(48,48,48)"/><rect x="180" y="400" width="20" height="20" fill="rgb(47,47,47)"/><rect x="200" y="400" width="20" height="20" fill="rgb(44,44,44)"/><rect x="220" y="400" width="20" height="20" fill="rgb(42,42,42)"/><rect x="240" y="400" width="20" height="20" fill="rgb(44,44,44)"/><rect x="260" y="400" width="20" height="20" fill="rgb(49,49,49)"/><rect x="280" y="400" width="20" height="20" fill="rgb(57,57,57)"/><rect x="300" y="400" width="20" height="20" fill="rgb(65,65,65)"/><rect x="320" y="400" width="20" height="20" fill="rgb(72,72,72)"/><rect x="340" y="400" width="20" height="20" fill="rgb(77,77,77)"/><rect x="360" y="400" width="40" height="20" fill="rgb(80,80,80)"/><rect x="400" y="400" width="20" height="20" fill="rgb(79,79,79)"/><rect x="420" y="400" width="20" height="20" fill="rgb(78,78,78)"/><rect x="440" y="400" width="20" height="20" fill="rgb(77,77,77)"/><rect x="460" y="400" width="20" height="20" fill="rgb(79,79,79)"/><rect x="480" y="400" width="20" height="20" fill="rgb(81,81,81)"/><rect x="500" y="400" width="20" height="20" fill="rgb(83,83,83)"/><rect x="520" y="400" width="20" height="20" fill="rgb(84,84,84)"/><rect x="540" y="400" width="20" height="20" fill="rgb(83,83,83)"/><rect x="560" y="400" width="20" height="20" fill="rgb(81,81,81)"/><rect x="580" y="400" width="20" height="20" fill="rgb(80,80,80)"/><rect x="600" y="400" width="20" height="20" fill="rgb(81,81,81)"/><rect x="620" y="400" width="20" height="20" fill="rgb(82,82,82)"/><rect x="640" y="400" width="20" height="20" fill="rgb(83,83,83)"/><rect x="660" y="400" width="20" height="20" fill="rgb(84,84,84)"/><rect x="680" y="400" width="20" height="20" fill="rgb(85,85,85)"/><rect x="700" y="400" width="40" height="20" fill="rgb(87,87,87)"/><rect x="740" y="400" width="20" height="20" fill="rgb(88,88,88)"/><rect x="760" y="400" width="60" height="20" fill="rgb(89,89,89)"/><rect x="-40" y="420" width="60" height="60" fill="rgb(43,43,43)"/><rect x="20" y="420" width="40" height="60" fill="rgb(45,45,45)"/><rect x="60" y="420" width="40" height="60" fill="rgb(47,47,47)"/><rect x="100" y="420" width="20" height="60" fill="rgb(45,45,45)"/><rect x="120" y="420" width="20" height="60" fill="rgb(43,43,43)"/><rect x="140" y="420" width="20" height="60" fill="rgb(45,45,45)"/><rect x="160" y="420" width="20" height="60" fill="rgb(46,46,46)"/><rect x="180" y="420" width="20" height="60" fill="rgb(45,45,45)"/><rect x="200" y="420" width="20" height="60" fill="rgb(41,41,41)"/><rect x="220" y="420" width="20" height="60" fill="rgb(39,39,39)"/><rect x="240" y="420" width="20" height="60" fill="rgb(41,41,41)"/><rect x="260" y="420" width="20" height="60" fill="rgb(47,47,47)"/><rect x="280" y="420" width="20" height="60" fill="rgb(56,56,56)"/><rect x="300" y="420" width="20" height="60" fill="rgb(65,65,65)"/><rect x="320" y="420" width="20" height="60" fill="rgb(73,73,73)"/><rect x="340" y="420" width="20" height="60" fill="rgb(79,79,79)"/><rect x="360" y="420" width="40" height="60" fill="rgb(82,82,82)"/><rect x="400" y="420" width="20" height="60" fill="rgb(80,80,80)"/><rect x="420" y="420" width="40" height="60" fill="rgb(78,78,78)"/><rect x="460" y="420" width="20" height="60" fill="rgb(79,79,79)"/><rect x="480" y="420" width="20" height="60" fill="rgb(82,82,82)"/><rect x="500" y="420" width="20" height="60" fill="rgb(84,84,84)"/><rect x="520" y="420" width="20" height="60" fill="rgb(85,85,85)"/><rect x="540" y="420" width="20" height="60" fill="rgb(84,84,84)"/><rect x="560" y="420" width="20" height="60" fill="rgb(82,82,82)"/><rect x="580" y="420" width="40" height="60" fill="rgb(81,81,81)"/><rect x="620" y="420" width="20" height="60" fill="rgb(83,83,83)"/><rect x="640" y="420" width="20" height="60" fill="rgb(84,84,84)"/><rect x="660" y="420" width="20" height="60" fill="rgb(85,85,85)"/><rect x="680" y="420" width="20" height="60" fill="rgb(86,86,86)"/><rect x="700" y="420" width="20" height="60" fill="rgb(89,89,89)"/><rect x="720" y="420" width="20" height="60" fill="rgb(92,92,92)"/><rect x="740" y="420" width="20" height="60" fill="rgb(90,90,90)"/><rect x="760" y="420" width="60" height="60" fill="rgb(91,91,91)"/></g>
<g transform="rotate(-50 390 219)"><rect x="-400" y="-400" width="1600" height="1300" filter="url(#tx)" opacity=".35"/></g>
<g filter="url(#bs)" stroke="#fff" fill="none" stroke-linecap="round">
<path d="M12 128 Q20 150 26 182" stroke-width="2" stroke-opacity=".3"/>
<path d="M40 95 Q45 140 38 230" stroke-width="3" stroke-opacity=".1"/>
<path d="M0 250 Q40 200 70 120" stroke-width="4" stroke-opacity=".08"/>
<path d="M60 100 Q50 170 30 250" stroke-width="2" stroke-opacity=".12"/>
<path d="M700 320 Q740 260 780 210" stroke-width="6" stroke-opacity=".1"/>
<path d="M720 360 Q750 300 780 270" stroke-width="4" stroke-opacity=".08"/>
<path d="M612 8 Q585 40 578 100" stroke-width="4" stroke-opacity=".12"/>
<path d="M0 320 Q30 300 60 280" stroke-width="5" stroke-opacity=".08"/>
</g>
</svg>
<div class="a" style="position:absolute;left:23.3px;top:13.5px;white-space:nowrap;color:#fff;font-weight:bold;line-height:22px;font-size:15.5px;letter-spacing:-1.5px;-webkit-text-stroke:.5px #fff">くらべてみよう</div>
<div class="a" style="position:absolute;left:120.3px;top:14px;white-space:nowrap;color:#fff;font-weight:bold;line-height:22px;font-size:18px">; </div>
<div class="a" style="position:absolute;left:134.4px;top:14px;white-space:nowrap;color:#fff;font-weight:bold;line-height:22px;font-size:18px;letter-spacing:1.29px">Innovation Index Top2 (Sweden, Switzerland)</div>
<div class="a" style="position:absolute;left:25.9px;top:46.5px;white-space:nowrap;color:#e4e4e4;line-height:20px;font-size:14.5px;letter-spacing:.87px">Hofstede</div>
<div class="a" style="position:absolute;left:89.8px;top:46.5px;white-space:nowrap;color:#e4e4e4;line-height:20px;font-size:14px;letter-spacing:-1.07px">の国民文化モデルによる対比</div>
<div class="a" style="position:absolute;left:26.3px;top:67px;white-space:nowrap;color:#e4e4e4;line-height:20px;font-size:14px;letter-spacing:-.86px">“成功しなければならない”</div>
<div class="a" style="position:absolute;left:180.9px;top:67px;white-space:nowrap;color:#e4e4e4;line-height:20px;font-size:14px;letter-spacing:.45px">強迫観念と</div>
<div class="a" style="position:absolute;left:253.7px;top:67px;white-space:nowrap;color:#e4e4e4;line-height:20px;font-size:14px;letter-spacing:.8px">”不確実性の忌避”</div>
<div class="a" style="position:absolute;left:371px;top:67px;white-space:nowrap;color:#e4e4e4;line-height:20px;font-size:14px;letter-spacing:1.7px">“長期志向”</div>
<div class="a" style="position:absolute;left:448.1px;top:67px;white-space:nowrap;color:#e4e4e4;line-height:20px;font-size:14px;letter-spacing:-.1px">が日本人には顕著</div>
<div class="lg a" style="left:692px;top:8px;transform:scaleX(.87)">F</div>
<div class="lg a" style="left:723px;top:8px;transform:scaleX(.83)">R</div>
<div class="lg a" style="left:737px;top:8px;transform:scaleX(.78)">T</div>
<div class="lg a" style="left:750.5px;top:8px;transform:scaleX(.9)">H</div>
<svg class="a" style="left:702px;top:6px" width="24" height="24" viewBox="0 0 24 24"><g transform="rotate(0 12 12)" fill="#9c938a"><path transform="rotate(0 12 12)" d="M2.20 11.00 L5.56 9.26 A7.0 7.0 0 0 1 11.51 5.02 L11.68 7.41 A4.6 4.6 0 0 0 7.41 11.68 Z"/><path transform="rotate(90 12 12)" d="M2.20 11.00 L5.56 9.26 A7.0 7.0 0 0 1 11.51 5.02 L11.68 7.41 A4.6 4.6 0 0 0 7.41 11.68 Z"/><path transform="rotate(180 12 12)" d="M2.20 11.00 L5.56 9.26 A7.0 7.0 0 0 1 11.51 5.02 L11.68 7.41 A4.6 4.6 0 0 0 7.41 11.68 Z"/><path transform="rotate(270 12 12)" d="M2.20 11.00 L5.56 9.26 A7.0 7.0 0 0 1 11.51 5.02 L11.68 7.41 A4.6 4.6 0 0 0 7.41 11.68 Z"/></g></svg>
<div class="a" style="left:714.5px;top:28.5px;font-size:4.65px;line-height:5px;font-weight:bold;color:#8f877f;letter-spacing:0px;white-space:nowrap">INNOVATION METHOD</div>
<div class="a" style="left:78px;top:106px;width:608px;height:283px;background:#fff"></div>
<div class="a" style="left:82px;top:110px;width:600px;height:50px;border:1px solid #e6e6e6"></div>
<div class="pill o" style="left:95px;width:71px"><span style="left:11px">Japan</span><i style="left:53px">×</i></div>
<div class="pill t" style="left:173px;width:81px"><span style="left:12px">Sweden</span><i style="left:63px">×</i></div>
<div class="pill s" style="left:261px;width:101px"><span style="left:12px">Switzerland</span><i style="left:83px">×</i></div>
<div class="a" style="left:78px;top:164px;width:608px;height:225px;overflow:hidden"><div class="a" style="left:6px;top:11px;width:1px;height:149px;background:#ececec"></div><div class="a" style="left:6px;top:159px;width:592px;height:1px;background:#e8e8e8"></div><div class="bar o" style="left:27.2px;top:79.3px;height:80.2px"></div><div class="val" style="left:19.2px;top:64.3px">54</div><div class="bar t" style="left:48.8px;top:113.5px;height:46.0px"></div><div class="val" style="left:40.8px;top:98.5px">31</div><div class="bar s" style="left:70.4px;top:109.0px;height:50.5px"></div><div class="val" style="left:62.4px;top:94.0px">34</div><div class="bar o" style="left:125.8px;top:67.4px;height:92.1px"></div><div class="val" style="left:117.8px;top:52.4px">62</div><div class="bar t" style="left:147.4px;top:30.3px;height:129.2px"></div><div class="val" style="left:139.4px;top:15.3px">87</div><div class="bar s" style="left:169.0px;top:42.2px;height:117.3px"></div><div class="val" style="left:161.0px;top:27.2px">79</div><div class="bar o" style="left:224.4px;top:18.4px;height:141.1px"></div><div class="val" style="left:216.4px;top:3.4px">95</div><div class="bar t" style="left:246.0px;top:152.1px;height:7.4px"></div><div class="val" style="left:238.0px;top:137.1px">5</div><div class="bar s" style="left:267.6px;top:55.5px;height:104.0px"></div><div class="val" style="left:259.6px;top:40.5px">70</div><div class="bar o" style="left:323.0px;top:22.9px;height:136.6px"></div><div class="val" style="left:315.0px;top:7.9px">92</div><div class="bar t" style="left:344.6px;top:116.4px;height:43.1px"></div><div class="val" style="left:336.6px;top:101.4px">29</div><div class="bar s" style="left:366.2px;top:73.4px;height:86.1px"></div><div class="val" style="left:358.2px;top:58.4px">58</div><div class="bar o" style="left:421.6px;top:11.0px;height:148.5px"></div><div class="val" style="left:413.6px;top:-4.0px">100</div><div class="bar t" style="left:443.2px;top:82.3px;height:77.2px"></div><div class="val" style="left:435.2px;top:67.3px">52</div><div class="bar s" style="left:464.8px;top:97.1px;height:62.4px"></div><div class="val" style="left:456.8px;top:82.1px">42</div><div class="bar o" style="left:520.2px;top:97.1px;height:62.4px"></div><div class="val" style="left:512.2px;top:82.1px">42</div><div class="bar t" style="left:541.8px;top:43.7px;height:115.8px"></div><div class="val" style="left:533.8px;top:28.7px">78</div><div class="bar s" style="left:563.4px;top:61.5px;height:98.0px"></div><div class="val" style="left:555.4px;top:46.5px">66</div></div>
<div class="cat" style="left:85.7px;top:346.7px">Power<br>Distance</div>
<div class="cat" style="left:184.3px;top:353.4px">Individualism</div>
<div class="cat" style="left:282.9px;top:333.2px">Motivation<br>towards<br>Achievement and<br>Success</div>
<div class="cat" style="left:381.5px;top:346.7px">Uncertainty<br>Avoidance</div>
<div class="cat" style="left:480.1px;top:346.7px">Long Term<br>Orientation</div>
<div class="cat" style="left:578.7px;top:353.4px">Indulgence</div>
<div class="a" style="left:634px;top:48px;width:146px;height:138px;background:#fff;overflow:hidden"><div class="a" style="left:0px;top:12px;width:40px;height:30px;background-image:radial-gradient(circle at 1px 1px, rgba(190,190,190,.28) .7px, rgba(0,0,0,0) 1px);background-size:2.4px 2.4px;"></div><div class="a" style="left:45px;top:10px;width:60px;height:8px;background-image:radial-gradient(circle at 1px 1px, rgba(190,190,190,.28) .7px, rgba(0,0,0,0) 1px);background-size:2.4px 2.4px;"></div><div class="a" style="left:100px;top:8px;width:46px;height:95px;background-image:radial-gradient(circle at 1px 1px, rgba(190,190,190,.28) .7px, rgba(0,0,0,0) 1px);background-size:2.4px 2.4px;"></div><div class="a" style="left:0px;top:50px;width:35px;height:70px;background-image:radial-gradient(circle at 1px 1px, rgba(190,190,190,.28) .7px, rgba(0,0,0,0) 1px);background-size:2.4px 2.4px;"></div><div class="a" style="left:30px;top:110px;width:116px;height:28px;background-image:radial-gradient(circle at 1px 1px, rgba(190,190,190,.28) .7px, rgba(0,0,0,0) 1px);background-size:2.4px 2.4px;"></div><div class="a" style="left:60px;top:70px;width:40px;height:12px;background-image:radial-gradient(circle at 1px 1px, rgba(190,190,190,.28) .7px, rgba(0,0,0,0) 1px);background-size:2.4px 2.4px;"></div><div class="a" style="left:6.5px;top:12px;width:1px;height:126px;background:#e2e2e2"></div><div class="a" style="left:38px;top:12px;width:1px;height:126px;background:#efefef"></div><div class="a" style="left:69px;top:12px;width:1px;height:126px;background:#e2e2e2"></div><div class="a" style="left:101px;top:12px;width:1px;height:126px;background:#efefef"></div><div class="a" style="left:133px;top:12px;width:1px;height:126px;background:#e2e2e2"></div><div class="a" style="left:-4px;top:3px;font-size:7.2px;line-height:7px;color:#f07f1a;font-weight:bold;transform:scaleX(.72);transform-origin:50% 0;width:20px;text-align:center">0</div><div class="a" style="left:59px;top:3px;font-size:7.2px;line-height:7px;color:#f07f1a;font-weight:bold;transform:scaleX(.72);transform-origin:50% 0;width:20px;text-align:center">50</div><div class="a" style="left:122.5px;top:3px;font-size:7.2px;line-height:7px;color:#f07f1a;font-weight:bold;transform:scaleX(.72);transform-origin:50% 0;width:20px;text-align:center">100</div><div class="arr" style="top:19.0px"><div class="big">PDI</div><b style="left:4.5px">小さい</b><b class="m">権力格差</b><b style="right:5px">大きい</b></div><div class="arr" style="top:38.6px"><div class="big">IDV</div><b style="left:4.5px">集団主義</b><b class="m">集団主義／個人主義</b><b style="right:5px">個人主義</b></div><div class="arr" style="top:58.2px"><div class="big">MAS</div><b style="left:4.5px">女性性</b><b class="m">女性性／男性性</b><b style="right:5px">男性性</b></div><div class="arr" style="top:77.8px"><div class="big">UAI</div><b style="left:4.5px">弱い</b><b class="m">不確実性の回避</b><b style="right:5px">強い</b></div><div class="arr" style="top:97.4px"><div class="big">LTO</div><b style="left:4.5px">短期志向</b><b class="m">短期志向／長期志向</b><b style="right:5px">長期志向</b></div><div class="arr" style="top:117.0px"><div class="big">IVR</div><b style="left:4.5px">抑制的</b><b class="m">人生の楽しみ方</b><b style="right:5px">充足的</b></div></div>
<div class="a" style="left:78px;top:391px;width:610px;height:36px;background:rgba(228,230,238,.5)"></div>
<div class="a" style="position:absolute;left:174.1px;top:394px;white-space:nowrap;color:#fff;font-weight:bold;font-size:12px;line-height:15px;-webkit-text-stroke:.35px #fff;letter-spacing:-.70px">イノベーションとは、”新結合”であり不確実性への挑戦そのものにもかかわらず、</div>
<div class="a" style="position:absolute;left:99.3px;top:408.5px;white-space:nowrap;color:#fff;font-weight:bold;font-size:12px;line-height:15px;-webkit-text-stroke:.35px #fff;letter-spacing:-.99px">”やるからには失敗は許されない” “正しくやりとげねばならない” と考えるのはイノベーションの阻害そのもの…</div>
</body></html>
